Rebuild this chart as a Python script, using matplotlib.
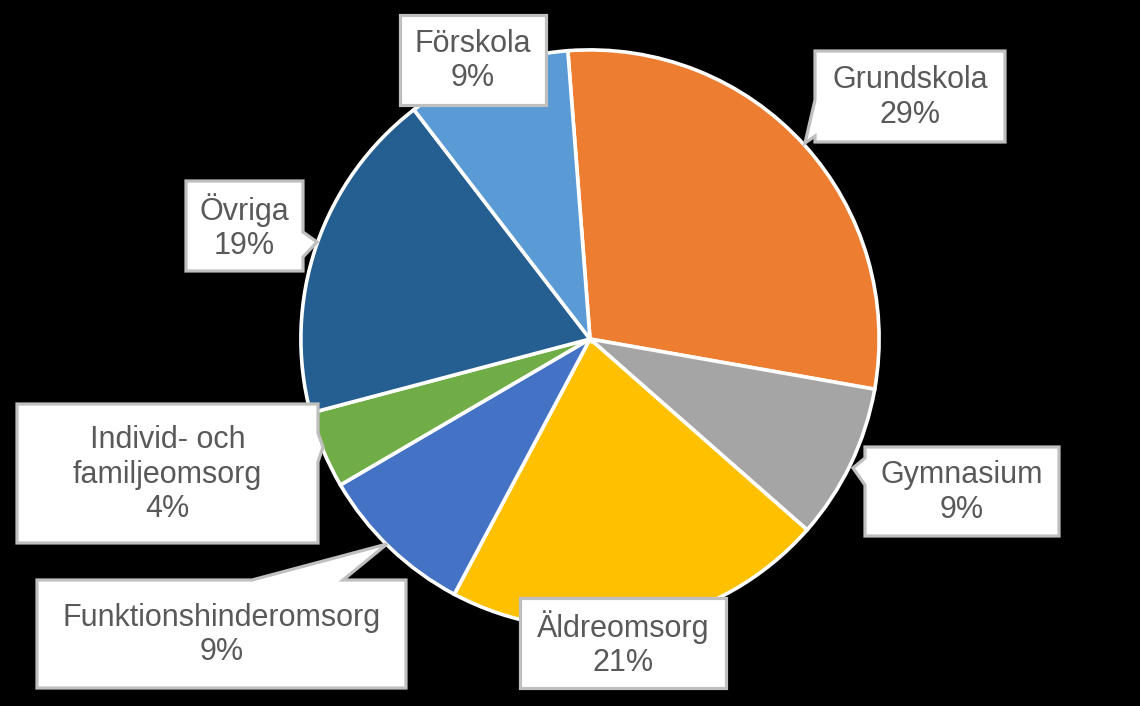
import matplotlib.pyplot as plt
from matplotlib.patches import Polygon

plt.rcParams['font.family'] = ['Liberation Sans', 'DejaVu Sans']

labels = ['Grundskola', 'Gymnasium', 'Äldreomsorg', 'Funktionshinderomsorg',
          'Individ- och\nfamiljeomsorg', 'Övriga', 'Förskola']
values = [29.0, 8.7, 21.3, 8.8, 4.3, 18.7, 9.2]
colors = ['#ED7D31', '#A5A5A5', '#FFC000', '#4472C4', '#70AD47', '#255E91', '#5B9BD5']

W, H = 1140, 706
fig = plt.figure(figsize=(W / 100, H / 100), dpi=100)
fig.patch.set_facecolor('black')

# pie placed in pixel terms: centre (590, 339), radius 292
cx, cy, r = 590, 339, 292
ax = fig.add_axes([(cx - r) / W, (H - cy - r) / H, 2 * r / W, 2 * r / H])
ax.pie(values, colors=colors, startangle=94.4, counterclock=False,
       wedgeprops=dict(edgecolor='white', linewidth=2.6))
ax.set_xlim(-1.01, 1.01)
ax.set_ylim(-1.01, 1.01)
ax.set_axis_off()

# overlay in pixel coordinates for the callout boxes
ov = fig.add_axes([0, 0, 1, 1], zorder=5)
ov.set_xlim(0, W)
ov.set_ylim(H, 0)
ov.set_axis_off()
ov.patch.set_alpha(0)

# box (x0, y0, x1, y1) and optional pointer (edge, base start, base end, tip)
boxes = {
    'Grundskola': ((815, 51, 1005, 142), ('left', 100, 136, (805, 143))),
    'Gymnasium': ((865, 447, 1059, 536), ('left', 458, 485, (853, 468))),
    'Äldreomsorg': ((520, 598, 726, 688), None),
    'Funktionshinderomsorg': ((37, 580, 406, 688), ('top', 252, 343, (387, 544))),
    'Individ- och\nfamiljeomsorg': ((17, 404, 318, 543), ('right', 433, 462, (323, 447))),
    'Övriga': ((186, 181, 303, 271), ('right', 232, 257, (317, 242))),
    'Förskola': ((400, 15, 546, 105), None),
}


def callout(x0, y0, x1, y1, ptr):
    pts = [(x0, y0), (x1, y0), (x1, y1), (x0, y1)]
    if ptr is None:
        return pts
    edge, a, b, tip = ptr
    if edge == 'top':
        return [(x0, y0), (a, y0), tip, (b, y0), (x1, y0), (x1, y1), (x0, y1)]
    if edge == 'right':
        return [(x0, y0), (x1, y0), (x1, a), tip, (x1, b), (x1, y1), (x0, y1)]
    if edge == 'left':
        return [(x0, y0), (x1, y0), (x1, y1), (x0, y1), (x0, b), tip, (x0, a)]
    return pts


for lab, v in zip(labels, values):
    (x0, y0, x1, y1), ptr = boxes[lab]
    ov.add_patch(Polygon(callout(x0, y0, x1, y1, ptr), closed=True,
                         facecolor='white', edgecolor='#BFBFBF',
                         linewidth=2.3, joinstyle='miter'))
    ov.text((x0 + x1) / 2, (y0 + y1) / 2 + 1, f'{lab}\n{round(v)}%',
            ha='center', va='center', fontsize=22, color='#595959',
            linespacing=1.18)

fig.savefig('out.png', dpi=100, facecolor='black')
